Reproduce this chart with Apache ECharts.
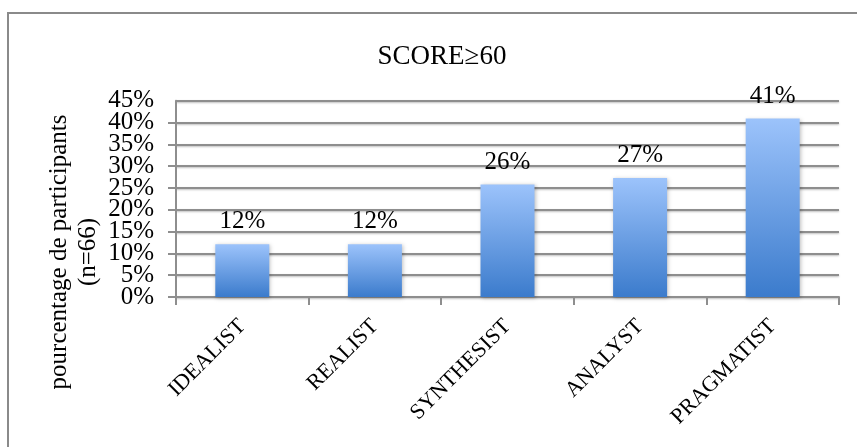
<!DOCTYPE html>
<html>
<head>
<meta charset="utf-8">
<script src="https://cdn.jsdelivr.net/npm/echarts@6/dist/echarts.min.js"></script>
<style>
html,body{margin:0;padding:0;background:#fff;}
#main{width:857px;height:447px;}
</style>
</head>
<body>
<div id="main"></div>
<script>
var categories = ['IDEALIST', 'REALIST', 'SYNTHESIST', 'ANALYST', 'PRAGMATIST'];
var values = [12.1, 12.1, 25.8, 27.3, 40.9];
var yTicks = [0, 5, 10, 15, 20, 25, 30, 35, 40, 45];
var titleText = 'SCORE≥60';
var yNameLine1 = 'pourcentage de participants';
var yNameLine2 = '(n=66)';

var serif = '"Liberation Serif", "Times New Roman", serif';
var yMin = yTicks[0], yMax = yTicks[yTicks.length - 1], yStep = yTicks[1] - yTicks[0];
var chart = echarts.init(document.getElementById('main'));

function labelOpts(showEven) {
  return {
    formatter: function (v) {
      var even = (Math.round(v / yStep) % 2) === 0;
      return even === showEven ? v + '%' : '';
    },
    margin: 22, color: '#000', fontFamily: serif, fontSize: 25,
    showMinLabel: showEven, showMaxLabel: !showEven, hideOverlap: false
  };
}

chart.setOption({
  animation: false,
  backgroundColor: '#fff',
  title: {
    text: titleText,
    left: 437, top: 38, textAlign: 'center',
    textStyle: {fontFamily: serif, fontSize: 27, fontWeight: 'normal', color: '#000'}
  },
  graphic: [
    {type: 'rect', shape: {x: 8, y: 13, width: 900, height: 500},
     style: {fill: 'none', stroke: '#8a8a8a', lineWidth: 2}, silent: true},
    {type: 'text', x: 59, y: 252, rotation: Math.PI / 2,
     style: {text: yNameLine1, fontFamily: serif, fontSize: 25, fill: '#000',
             textAlign: 'center', textVerticalAlign: 'middle'}},
    {type: 'text', x: 88, y: 252, rotation: Math.PI / 2,
     style: {text: yNameLine2, fontFamily: serif, fontSize: 25, fill: '#000',
             textAlign: 'center', textVerticalAlign: 'middle'}}
  ],
  grid: {left: 176, right: 18, top: 100.7, bottom: 150, containLabel: false},
  xAxis: {
    type: 'category',
    data: categories,
    axisLine: {show: true, lineStyle: {color: '#8e8e8e', width: 2}},
    axisTick: {show: true, length: 8, inside: false, alignWithLabel: false,
               lineStyle: {color: '#8e8e8e', width: 2}},
    axisLabel: {rotate: 45, margin: 26, fontFamily: serif, fontSize: 22, color: '#000', interval: 0}
  },
  yAxis: [{
    type: 'value', position: 'left',
    min: yMin, max: yMax, interval: yStep,
    axisLine: {show: true, lineStyle: {color: '#8e8e8e', width: 2}},
    axisTick: {show: true, length: 8, lineStyle: {color: '#8e8e8e', width: 2}},
    axisLabel: labelOpts(true),
    splitLine: {show: true, lineStyle: {color: '#8e8e8e', width: 2,
                shadowColor: 'rgba(0,0,0,0.25)', shadowBlur: 2, shadowOffsetY: 1}}
  }, {
    type: 'value', position: 'left', offset: 0,
    min: yMin, max: yMax, interval: yStep,
    axisLine: {show: false}, axisTick: {show: false}, splitLine: {show: false},
    axisLabel: labelOpts(false)
  }],
  series: [{
    type: 'bar',
    yAxisIndex: 0,
    data: values,
    barWidth: 54,
    itemStyle: {
      color: new echarts.graphic.LinearGradient(0, 0, 0, 1, [
        {offset: 0, color: '#9cc3fb'},
        {offset: 1, color: '#3b7bcc'}
      ]),
      shadowColor: 'rgba(0,0,0,0.25)', shadowBlur: 4, shadowOffsetX: 1, shadowOffsetY: 1
    },
    label: {
      show: true, position: 'top', distance: 10,
      formatter: function (p) { return Math.round(p.value) + '%'; },
      fontFamily: serif, fontSize: 25, color: '#000'
    }
  }]
});
</script>
</body>
</html>
